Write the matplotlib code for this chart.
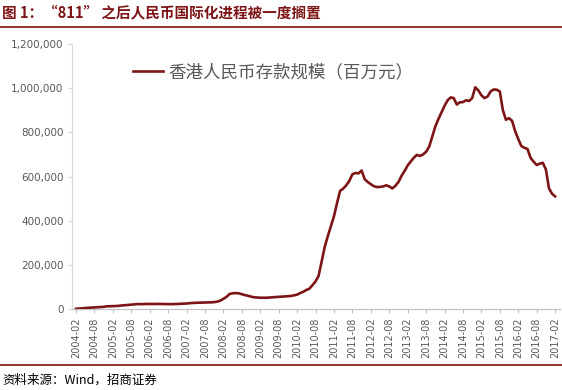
import matplotlib
matplotlib.use('Agg')
import matplotlib.pyplot as plt
from matplotlib.lines import Line2D
from matplotlib.ticker import FuncFormatter

plt.rcParams['font.family'] = ['Noto Sans CJK SC', 'DejaVu Sans']

#---data: HK RMB deposits, million yuan, monthly 2004-02 .. 2017-02
start_year, start_month = 2004, 2
deposits_k = [
    # 2004 Feb-Dec
    0.9, 2.1, 3.3, 4.5, 5.4, 6.2, 7.1, 8.1, 8.9, 9.7, 12.1,
    # 2005
    12.5, 12.7, 13.4, 14.7, 15.9, 17.2, 18.3, 19.8, 21.4, 22.3, 22.0, 22.6,
    # 2006
    22.9, 22.7, 22.6, 22.9, 23.0, 22.5, 22.4, 22.1, 22.0, 22.3, 22.8, 23.4,
    # 2007
    24.0, 25.0, 26.5, 27.5, 28.2, 28.6, 28.9, 29.3, 29.8, 30.2, 31.2, 33.4,
    # 2008
    38, 46, 55, 68, 71, 72, 71, 67, 63, 60, 56, 53,
    # 2009
    52, 51, 51, 51, 52, 53, 54, 55, 56, 57, 58, 59,
    # 2010
    62, 65, 72, 78, 86, 92, 108, 125, 150, 217, 282, 330,
    # 2011
    375, 420, 480, 535, 545, 560, 580, 610, 616, 614, 627, 588,
    # 2012
    575, 565, 556, 552, 553, 555, 560, 555, 546, 558, 575, 603,
    # 2013
    625, 650, 668, 685, 698, 693, 700, 712, 735, 780, 826, 860,
    # 2014
    890, 920, 945, 958, 955, 926, 936, 937, 945, 942, 955, 1004,
    # 2015
    990, 968, 955, 962, 985, 994, 993, 985, 900, 857, 864, 852,
    # 2016
    805, 770, 738, 730, 725, 685, 667, 652, 658, 662, 632, 547,
    # 2017 Jan-Feb
    522, 510,
]
deposits = [v * 1000 for v in deposits_k]
legend_label = '香港人民币存款规模（百万元）'
title = '图 1：“811” 之后人民币国际化进程被一度搁置'
source = '资料来源：Wind，招商证券'

dark_red = '#7d1416'
grey_text = '#595959'

months = list(range(len(deposits)))
tick_pos = months[::6]
tick_lab = []
for m in tick_pos:
    y = start_year + (start_month - 1 + m) // 12
    mo = (start_month - 1 + m) % 12 + 1
    tick_lab.append('%d-%02d' % (y, mo))

W, H = 562, 390
fig = plt.figure(figsize=(W / 100, H / 100), dpi=100)
ax = fig.add_axes([72 / W, 81 / H, 488 / W, 265 / H])

ax.plot(months, deposits, color=dark_red, lw=1.9, clip_on=False,
        solid_joinstyle='round', label=legend_label)

ax.set_xlim(-1.3, 157.6)
ax.set_ylim(0, 1200000)
ax.set_yticks(range(0, 1200001, 200000))
ax.yaxis.set_major_formatter(FuncFormatter(lambda v, p: '{:,.0f}'.format(v)))
ax.set_xticks(tick_pos)
ax.set_xticklabels(tick_lab, rotation=90)

for s in ['top', 'right']:
    ax.spines[s].set_visible(False)
ax.spines['left'].set_color('#d9d9d9')
ax.spines['bottom'].set_color('#bfbfbf')
ax.spines['left'].set_linewidth(0.8)
ax.spines['bottom'].set_linewidth(0.8)
ax.tick_params(axis='y', colors='#d9d9d9', labelcolor=grey_text, labelsize=7.5,
               length=3, width=0.8, pad=3)
ax.tick_params(axis='x', colors='#bfbfbf', labelcolor=grey_text, labelsize=7,
               length=3, width=0.8, pad=3)
for t in ax.get_xticklabels() + ax.get_yticklabels():
    t.set_family('DejaVu Sans')

ax.legend(loc='center left', bbox_to_anchor=(133 / W, 1 - 72 / H),
          bbox_transform=fig.transFigure, frameon=False, fontsize=12.6,
          handlelength=1.7, handletextpad=0.3, borderpad=0, borderaxespad=0,
          labelcolor=grey_text)

#---title, rules and source
fig.text(2 / W, 1 - 13 / H, title, color=dark_red, fontsize=10.5,
         fontweight='bold', va='center', ha='left')
fig.add_artist(Line2D([0, 1], [1 - 27 / H, 1 - 27 / H], color=dark_red, lw=1.2))
fig.add_artist(Line2D([0, 1], [1 - 365 / H, 1 - 365 / H], color=dark_red, lw=1.2))
fig.text(2 / W, 1 - 380 / H, source, color='black', fontsize=9,
         va='center', ha='left')

fig.savefig('out.png', dpi=100)
